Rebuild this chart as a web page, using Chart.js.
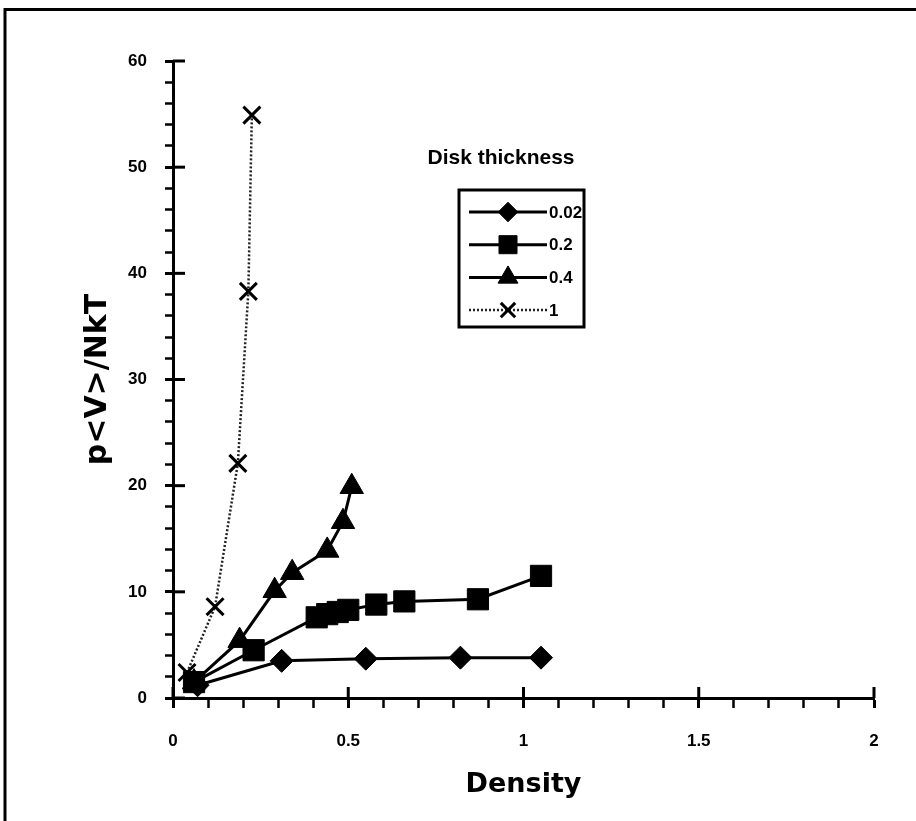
<!DOCTYPE html>
<html>
<head>
<meta charset="utf-8">
<script src="https://cdn.jsdelivr.net/npm/chart.js@4/dist/chart.umd.min.js"></script>
<style>
  body { margin: 0; background: #fff; }
  canvas { display: block; }
</style>
</head>
<body>
<canvas id="pressureChart" width="916" height="821"></canvas>
<script>
// series labels (disk thickness)
const thicknessLabels = ['0.02', '0.2', '0.4', '1'];

// density / pressure readings for each thickness
const density002 = [0.07, 0.31, 0.55, 0.82, 1.05];
const pressure002 = [1.2, 3.5, 3.7, 3.8, 3.8];

const density02 = [0.06, 0.23, 0.41, 0.44, 0.47, 0.50, 0.58, 0.66, 0.87, 1.05];
const pressure02 = [1.5, 4.5, 7.6, 7.9, 8.1, 8.3, 8.8, 9.1, 9.3, 11.5];

const density04 = [0.06, 0.19, 0.29, 0.34, 0.44, 0.485, 0.51];
const pressure04 = [1.5, 5.4, 10.1, 11.8, 13.9, 16.6, 19.9];

const density1 = [0.04, 0.12, 0.185, 0.215, 0.225];
const pressure1 = [2.4, 8.6, 22.1, 38.3, 54.9];

const xTicks = ['0', '0.5', '1', '1.5', '2'];
const yTicks = ['0', '10', '20', '30', '40', '50', '60'];

const legendTitle = 'Disk thickness';

function toPoints(xs, ys) {
  return xs.map((x, i) => ({ x: x, y: ys[i] }));
}

const tickFont = { family: '"Liberation Sans", Arial, sans-serif', size: 17, weight: 'bold' };

// legend drawn inside the plot, like the original
const legendBox = {
  id: 'legendBox',
  afterDatasetsDraw(chart) {
    const ctx = chart.ctx;
    ctx.save();
    ctx.fillStyle = '#000';
    ctx.strokeStyle = '#000';
    ctx.font = 'bold 21px "Liberation Sans", Arial, sans-serif';
    ctx.textAlign = 'center';
    ctx.textBaseline = 'middle';
    ctx.fillText(legendTitle, 501, 158);

    ctx.lineWidth = 3;
    ctx.strokeRect(459, 190, 125, 137);

    ctx.font = 'bold 17px "Liberation Sans", Arial, sans-serif';
    ctx.textAlign = 'left';
    chart.data.datasets.forEach((ds, i) => {
      const rowY = 212 + i * 32.7;
      ctx.strokeStyle = ds.borderColor;
      ctx.lineWidth = ds.borderWidth;
      ctx.setLineDash(ds.borderDash || []);
      ctx.beginPath();
      ctx.moveTo(469, rowY);
      ctx.lineTo(547, rowY);
      ctx.stroke();
      ctx.setLineDash([]);
      ctx.strokeStyle = '#000';
      ctx.fillStyle = '#000';
      ctx.lineWidth = ds.pointBorderWidth;
      Chart.helpers.drawPoint(ctx, {
        pointStyle: ds.pointStyle,
        radius: ds.pointRadius * 0.85,
        rotation: 0,
        borderWidth: ds.pointBorderWidth
      }, 508, rowY);
      ctx.fillText(ds.label, 549, rowY + 1);
    });
    ctx.restore();
  }
};

// major ticks cross the axis line; outer frame of the figure
const axisExtras = {
  id: 'axisExtras',
  afterDraw(chart) {
    const ctx = chart.ctx;
    const xs = chart.scales.x;
    const ys = chart.scales.y;
    ctx.save();
    ctx.strokeStyle = '#000';
    ctx.lineWidth = 3;
    xs.ticks.forEach(t => {
      if (Math.abs(t.value * 2 - Math.round(t.value * 2)) < 1e-6) {
        const px = xs.getPixelForValue(t.value);
        ctx.beginPath();
        ctx.moveTo(px, xs.top);
        ctx.lineTo(px, xs.top - 11);
        ctx.stroke();
      }
    });
    ys.ticks.forEach(t => {
      if (Math.abs(t.value % 10) < 1e-6) {
        const py = ys.getPixelForValue(t.value);
        ctx.beginPath();
        ctx.moveTo(ys.right, py);
        ctx.lineTo(ys.right + 12, py);
        ctx.stroke();
      }
    });
    // frame
    ctx.lineWidth = 3;
    ctx.beginPath();
    ctx.moveTo(5, 821);
    ctx.lineTo(5, 9.5);
    ctx.lineTo(916, 9.5);
    ctx.stroke();
    ctx.restore();
  }
};

const canvas = document.getElementById('pressureChart');

const pressureChart = new Chart(canvas, {
  type: 'scatter',
  data: {
    datasets: [{
      label: thicknessLabels[0],
      data: toPoints(density002, pressure002),
      showLine: true,
      borderColor: '#000',
      backgroundColor: '#000',
      borderWidth: 3,
      pointStyle: 'rectRot',
      pointRadius: 11.5,
      pointBorderWidth: 1
    }, {
      label: thicknessLabels[1],
      data: toPoints(density02, pressure02),
      showLine: true,
      borderColor: '#000',
      backgroundColor: '#000',
      borderWidth: 3,
      pointStyle: 'rect',
      pointRadius: 15,
      pointBorderWidth: 1
    }, {
      label: thicknessLabels[2],
      data: toPoints(density04, pressure04),
      showLine: true,
      borderColor: '#000',
      backgroundColor: '#000',
      borderWidth: 3,
      pointStyle: 'triangle',
      pointRadius: 13.5,
      pointBorderWidth: 1
    }, {
      label: thicknessLabels[3],
      data: toPoints(density1, pressure1),
      showLine: true,
      borderColor: '#222',
      backgroundColor: '#000',
      borderWidth: 2.5,
      borderDash: [2, 2],
      pointStyle: 'crossRot',
      pointRadius: 12,
      pointBorderColor: '#000',
      pointBorderWidth: 3
    }]
  },
  options: {
    responsive: false,
    animation: false,
    layout: { padding: { left: 0, top: 61, right: 42, bottom: 0 } },
    plugins: {
      legend: { display: false },
      tooltip: { enabled: false }
    },
    scales: {
      x: {
        type: 'linear',
        min: 0,
        max: 2,
        afterFit: s => { s.height = 123; },
        ticks: {
          stepSize: 0.1,
          autoSkip: false,
          maxRotation: 0,
          padding: 23,
          color: '#000',
          font: tickFont,
          callback: v => {
            const idx = xTicks.indexOf(String(Math.round(v * 10) / 10));
            return idx >= 0 ? xTicks[idx] : '';
          }
        },
        grid: {
          drawOnChartArea: false,
          tickLength: 10,
          tickColor: '#000',
          tickWidth: c => (c.tick && Math.abs(c.tick.value * 2 - Math.round(c.tick.value * 2)) < 1e-6 ? 3 : 2.5)
        },
        border: { color: '#000', width: 3 },
        title: {
          display: true,
          text: 'Density',
          color: '#000',
          font: { family: '"DejaVu Sans", sans-serif', size: 27, weight: 'bold' },
          padding: { top: 0, bottom: 20 }
        }
      },
      y: {
        type: 'linear',
        min: 0,
        max: 60,
        afterFit: s => { s.width = 173; },
        ticks: {
          stepSize: 2,
          autoSkip: false,
          padding: 18,
          color: '#000',
          font: tickFont,
          callback: v => {
            const idx = yTicks.indexOf(String(v));
            return idx >= 0 ? yTicks[idx] : '';
          }
        },
        grid: {
          drawOnChartArea: false,
          tickLength: 8,
          tickColor: '#000',
          tickWidth: c => (c.tick && c.tick.value % 10 === 0 ? 3 : 2.5)
        },
        border: { color: '#000', width: 3 },
        title: {
          display: true,
          text: 'p<V>/NkT',
          color: '#000',
          font: { family: '"DejaVu Sans", sans-serif', size: 30, weight: 'bold' },
          padding: { top: 80, bottom: 0 }
        }
      }
    }
  },
  plugins: [legendBox, axisExtras]
});
</script>
</body>
</html>
